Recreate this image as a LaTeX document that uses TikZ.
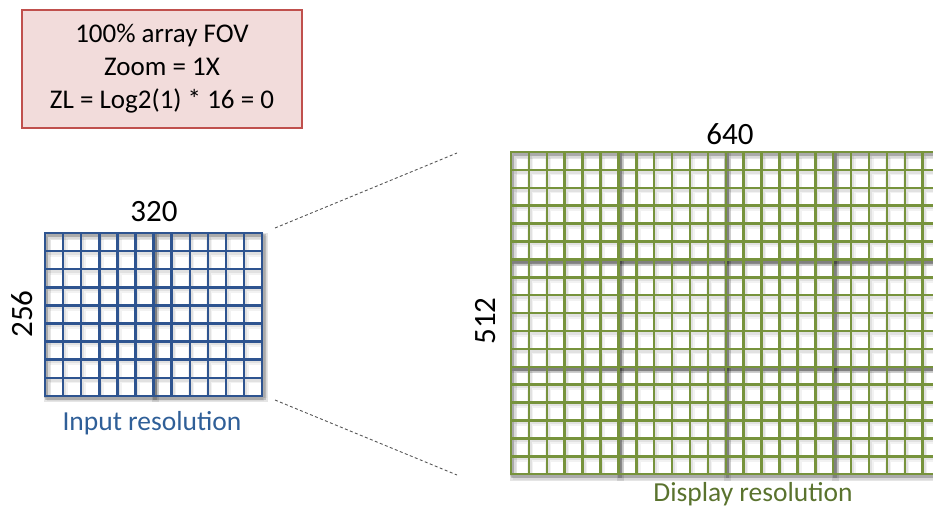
\documentclass[tikz,border=0pt]{standalone}
\usepackage{fontspec}
\setmainfont{Carlito}
\usetikzlibrary{calc}

\definecolor{gridblue}{HTML}{2E5490}
\definecolor{textblue}{HTML}{2F5F98}
\definecolor{gridgreen}{HTML}{77933C}
\definecolor{textgreen}{HTML}{5A732E}
\definecolor{boxfill}{HTML}{F2DCDB}
\definecolor{boxline}{HTML}{C0504D}
\definecolor{fovline}{HTML}{555555}

% a block of square cells: x0, y0, columns, rows, cell size, style
\newcommand\cellgrid[6]{%
  \draw[#6]
    \foreach \i in {0,...,#3} { ({#1+\i*#5},#2) -- ({#1+\i*#5},{#2+#4*#5}) }
    \foreach \j in {0,...,#4} { (#1,{#2+\j*#5}) -- ({#1+#3*#5},{#2+\j*#5}) };
}

\tikzset{
  x=1pt, y=-1pt,
  infobox/.style={draw=boxline, fill=boxfill, line width=1.6pt,
    minimum width=280pt, minimum height=118pt, align=center, inner sep=0pt,
    font=\fontsize{27}{33}\selectfont},
  dimlabel/.style={font=\fontsize{31}{36}\selectfont, inner sep=0pt},
  caption/.style={font=\fontsize{27.5}{32}\selectfont, inner sep=0pt},
  cellshadowwide/.style={draw=black, draw opacity=0.05, line width=6pt, shift={(1.5,2.5)}},
  cellshadow/.style={draw=black, draw opacity=0.07, line width=3.5pt, shift={(1.2,2)}},
  blockshadowwide/.style={draw=black, draw opacity=0.10, line width=7pt, shift={(2,3)}},
  blockshadow/.style={draw=black, draw opacity=0.16, line width=3.5pt, shift={(1.6,2.4)}},
  bluelines/.style={draw=gridblue, line width=2.5pt, line cap=rect},
  greenlines/.style={draw=gridgreen, line width=2.5pt, line cap=rect},
  fovedge/.style={draw=fovline, line width=0.9pt, dash pattern=on 3pt off 2.4pt}
}

\begin{document}
\begin{tikzpicture}
\useasboundingbox (0,0) rectangle (933,507);

% zoom information box
\node[infobox] (fov) at (162,69)
  {100\% array FOV\\Zoom = 1X\\ZL = Log2(1) * 16 = 0};

% input grid: 12 x 9 cells, two blocks of 6 columns
\def\ic{18.1}
\node[inner sep=0pt, minimum width=217.2pt, minimum height=162.9pt] (input) at ({45+108.6},{233+81.45}) {};
\cellgrid{45}{233}{12}{9}{\ic}{cellshadowwide}
\cellgrid{45}{233}{12}{9}{\ic}{cellshadow}
\foreach \b in {0,1} {
  \draw[blockshadowwide] ({45+\b*6*\ic},233) rectangle ({45+(\b+1)*6*\ic},{233+9*\ic});
  \draw[blockshadow] ({45+\b*6*\ic},233) rectangle ({45+(\b+1)*6*\ic},{233+9*\ic});
}
\cellgrid{45}{233}{12}{9}{\ic}{bluelines}

% display grid: 24 x 18 cells, blocks of 6 x 6
\def\dc{17.9}
\begin{scope}
\clip (0,0) rectangle (933,507);
\node[inner sep=0pt, minimum width=429.6pt, minimum height=322.2pt] (display) at ({511+214.8},{152+161.1}) {};
\cellgrid{511}{152}{24}{18}{\dc}{cellshadowwide}
\cellgrid{511}{152}{24}{18}{\dc}{cellshadow}
\foreach \bx in {0,...,3} {
  \foreach \by in {0,1,2} {
    \draw[blockshadowwide] ({511+\bx*6*\dc},{152+\by*6*\dc}) rectangle ({511+(\bx+1)*6*\dc},{152+(\by+1)*6*\dc});
    \draw[blockshadow] ({511+\bx*6*\dc},{152+\by*6*\dc}) rectangle ({511+(\bx+1)*6*\dc},{152+(\by+1)*6*\dc});
  }
}
\cellgrid{511}{152}{24}{18}{\dc}{greenlines}
\end{scope}

% dimension labels
\node[dimlabel] (w320) at (154,212) {320};
\node[dimlabel, rotate=90] (h256) at (22,314) {256};
\node[dimlabel] (w640) at (730,134) {640};
\node[dimlabel, rotate=90] (h512) at (486,321) {512};

% captions
\node[caption, text=textblue] (incap) at (152,423) {Input resolution};
\node[caption, text=textgreen] (discap) at (753,494) {Display resolution};

% field-of-view projection lines
\coordinate (inTop) at (275,228);
\coordinate (inBot) at (275,400);
\coordinate (outTop) at (457,153);
\coordinate (outBot) at (457,475);
\draw[fovedge] (inTop) -- (outTop);
\draw[fovedge] (inBot) -- (outBot);
\end{tikzpicture}
\end{document}
